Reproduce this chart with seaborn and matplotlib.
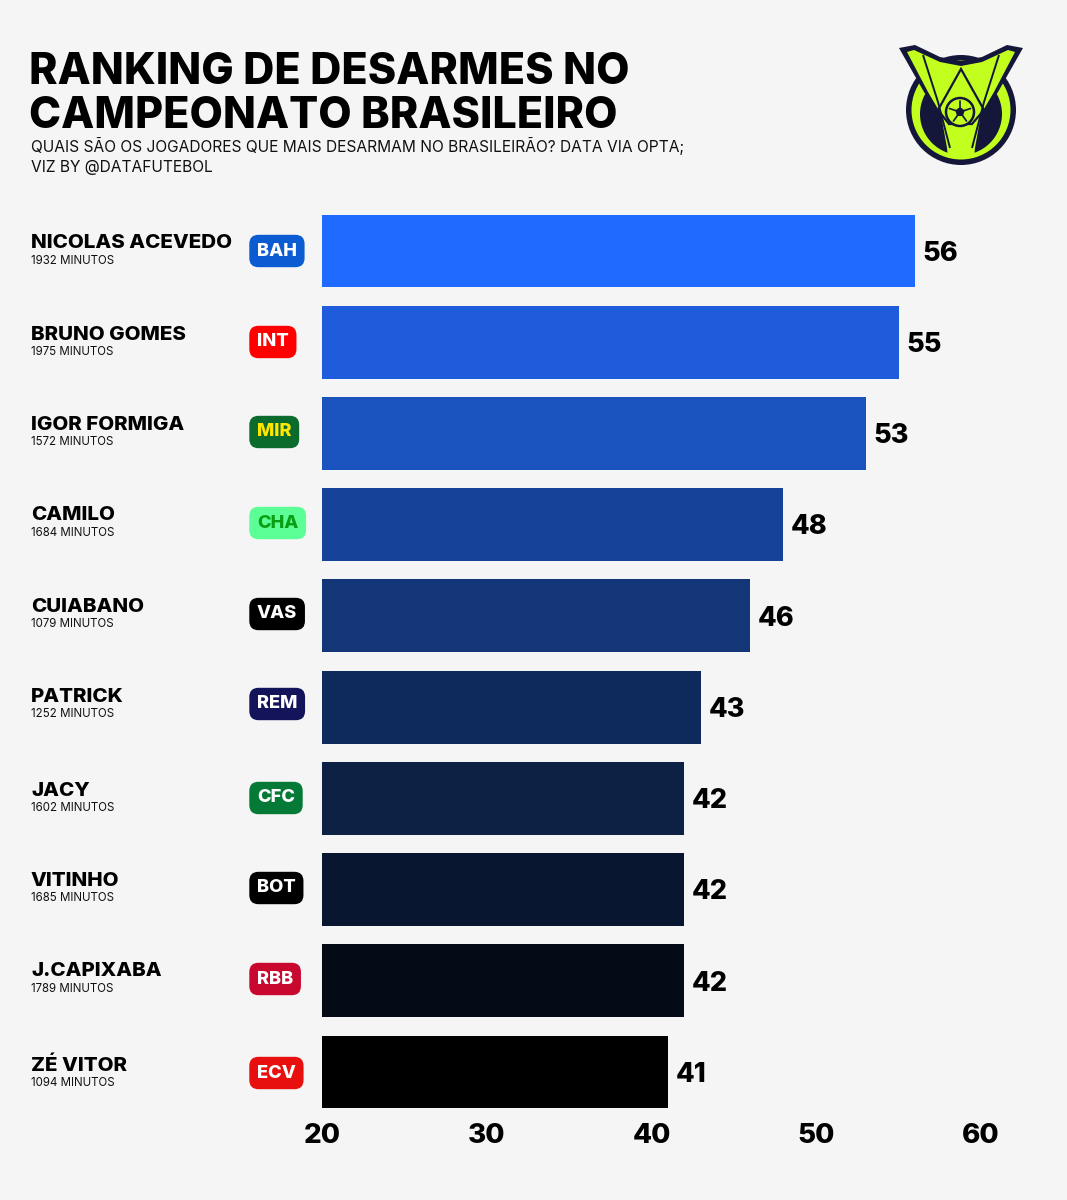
import matplotlib
matplotlib.use('Agg')
import matplotlib.pyplot as plt
from matplotlib.patches import Circle, Polygon, RegularPolygon
import pandas as pd
import seaborn as sns

# dados
jogadores = ['NICOLAS ACEVEDO', 'BRUNO GOMES', 'IGOR FORMIGA', 'CAMILO', 'CUIABANO',
             'PATRICK', 'JACY', 'VITINHO', 'J.CAPIXABA', 'ZÉ VITOR']
minutos = [1932, 1975, 1572, 1684, 1079, 1252, 1602, 1685, 1789, 1094]
desarmes = [56, 55, 53, 48, 46, 43, 42, 42, 42, 41]
times = ['BAH', 'INT', 'MIR', 'CHA', 'VAS', 'REM', 'CFC', 'BOT', 'RBB', 'ECV']
cor_fundo_time = ['#0B5BD3', '#FF0000', '#0A6B2D', '#5CFF95', '#000000',
                  '#14145A', '#057A36', '#000000', '#C8082F', '#E8100F']
cor_texto_time = ['#FFFFFF', '#FFFFFF', '#FFE600', '#0A9E14', '#FFFFFF',
                  '#FFFFFF', '#FFFFFF', '#FFFFFF', '#FFFFFF', '#FFFFFF']
cores_barras = ['#1F6BFF', '#1E5CDC', '#1A52BE', '#17429A', '#133678',
                '#0E2A5C', '#0D2145', '#081630', '#050B16', '#000000']
ticks = [20, 30, 40, 50, 60]

FUNDO = '#F5F5F5'
W, H = 1067, 1200

sns.set_theme(style='white')
plt.rcParams['font.family'] = ['Inter', 'DejaVu Sans']

df = pd.DataFrame({'jogador': jogadores, 'desarmes': desarmes})

fig = plt.figure(figsize=(W / 100, H / 100), dpi=100, facecolor=FUNDO)
ax = fig.add_axes([322 / W, 1 - 1117.6 / H, (981 - 322) / W, (1117.6 - 205.4) / H], facecolor=FUNDO)

sns.barplot(data=df, y='jogador', x='desarmes', hue='jogador', palette=cores_barras,
            legend=False, width=0.8, saturation=1, linewidth=0, ax=ax)
ax.set_xlim(20, 60)
ax.set_xticks(ticks)
ax.set_xlabel('')
ax.set_ylabel('')
ax.set_yticks([])
ax.tick_params(axis='x', length=0, pad=4, labelsize=20)
for t in ax.get_xticklabels():
    t.set_fontweight('heavy')
    t.set_color('black')
sns.despine(ax=ax, left=True, bottom=True)

for c in ax.containers:
    for rotulo in ax.bar_label(c, padding=5.5, fontsize=19.5, fontweight='heavy', color='black'):
        rotulo.xyann = (rotulo.xyann[0], -2)


def px(x, y):
    return x / W, 1 - y / H


# titulo
fig.text(*px(29, 73), 'RANKING DE DESARMES NO', fontsize=31, fontweight='heavy', va='center', color='black')
fig.text(*px(29, 117), 'CAMPEONATO BRASILEIRO', fontsize=31, fontweight='heavy', va='center', color='black')
fig.text(*px(31, 146), 'QUAIS SÃO OS JOGADORES QUE MAIS DESARMAM NO BRASILEIRÃO? DATA VIA OPTA;',
         fontsize=11.2, va='center', color='#111111')
fig.text(*px(31, 167), 'VIZ BY @DATAFUTEBOL', fontsize=11.2, va='center', color='#111111')

# nomes, minutos e escudos de texto
ys_nome = [242, 333, 423, 514, 605, 695, 789, 879, 970, 1064]
for i, nome in enumerate(jogadores):
    y = ys_nome[i]
    fig.text(*px(31, y + 1.5), nome, fontsize=14.8, fontweight='heavy', va='center', color='black')
    fig.text(*px(31, y + 19), f'{minutos[i]} MINUTOS', fontsize=8.3, va='center', color='#111111')
    fig.text(*px(257, y + 9), times[i], fontsize=13.2, fontweight='heavy', va='center', ha='left',
             color=cor_texto_time[i],
             bbox=dict(boxstyle='round,pad=0.42,rounding_size=0.5', fc=cor_fundo_time[i], ec='none'))

# logo do brasileirao
logo = fig.add_axes([880 / W, 1 - 180 / H, 160 / W, 150 / H])
logo.set_xlim(0, 160)
logo.set_ylim(150, 0)
logo.axis('off')
NAVY = '#14173A'
LIME = '#C2FF1E'


def espelho(pontos):
    return [(162 - x, y) for x, y in pontos]


logo.add_patch(Circle((81, 80), 55, fc=NAVY, ec='none'))
logo.add_patch(Circle((81, 80), 49.5, fc=LIME, ec='none'))
logo.add_patch(Circle((81, 84), 41, fc=NAVY, ec='none'))

# taca: contorno escuro e miolo verde
lado_fora = [(19, 18), (35, 15), (60, 27), (81, 31)]
logo.add_patch(Polygon(lado_fora + espelho(lado_fora)[::-1][1:]
                       + [(118, 62), (104, 84), (94, 122), (68, 122), (58, 84), (44, 62)],
                       fc=NAVY, ec='none'))
lado_dentro = [(27, 22), (34, 20), (60, 32), (81, 36)]
logo.add_patch(Polygon(lado_dentro + espelho(lado_dentro)[::-1][1:]
                       + [(114, 62), (101, 84), (95, 118), (94, 128), (68, 128), (67, 118), (61, 84), (48, 62)],
                       fc=LIME, ec='none'))
for linha in ([(43, 25), (58, 72), (70, 118)], espelho([(43, 25), (58, 72), (70, 118)])):
    logo.plot(*zip(*linha), color=NAVY, lw=1.4, solid_capstyle='butt')

# triangulo e bola
logo.add_patch(Polygon([(81, 39), (58, 80), (69, 94), (92, 94), (104, 80)], fc=LIME, ec=NAVY, lw=1.6))
logo.add_patch(Circle((80, 82), 14, fc=LIME, ec=NAVY, lw=1.8))
logo.add_patch(RegularPolygon((80, 82), 5, radius=5, orientation=3.1416, fc=NAVY, ec='none'))
for ax_x, ax_y in [(80, 71), (69.5, 78.5), (73.5, 91), (86.5, 91), (90.5, 78.5)]:
    logo.plot([80, ax_x], [82, ax_y], color=NAVY, lw=1.2)

fig.savefig('out.png', dpi=100, facecolor=FUNDO)
